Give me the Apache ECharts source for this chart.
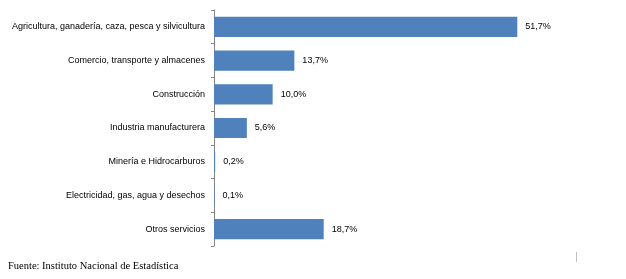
<!DOCTYPE html>
<html><head><meta charset="utf-8">
<script src="https://cdn.jsdelivr.net/npm/echarts@6/dist/echarts.min.js"></script>
<style>html,body{margin:0;padding:0;background:#fff}#c{width:626px;height:279px}</style>
</head><body><div id="c"></div>
<script>
const categories = [
  "Agricultura, ganadería, caza, pesca y silvicultura",
  "Comercio, transporte y almacenes",
  "Construcción",
  "Industria manufacturera",
  "Minería e Hidrocarburos",
  "Electricidad, gas, agua y desechos",
  "Otros servicios"
];
const values = [51.7, 13.7, 10.0, 5.6, 0.2, 0.1, 18.7];
const sourceText = "Fuente: Instituto Nacional de Estadística";

const FONT = "'Liberation Sans', Arial, sans-serif";
const chart = echarts.init(document.getElementById('c'), null, {renderer: 'canvas'});
chart.setOption({
  animation: false,
  grid: {left: 214, top: 10, width: 352, height: 236, containLabel: false, outerBoundsMode: 'none'},
  xAxis: {type: 'value', min: 0, max: 60, show: false},
  yAxis: {
    type: 'category', data: categories, inverse: true,
    axisLine: {show: true, lineStyle: {color: '#868686', width: 1}},
    axisTick: {show: true, length: 3, lineStyle: {color: '#868686'}},
    axisLabel: {color: '#000', fontFamily: FONT, fontSize: 9, margin: 9},
    splitLine: {show: false}
  },
  series: [{
    type: 'bar', data: values, barCategoryGap: '40%',
    itemStyle: {color: '#4F81BD'},
    label: {
      show: true, position: 'right', distance: 8,
      color: '#000', fontFamily: FONT, fontSize: 9,
      formatter: p => p.value.toFixed(1).replace('.', ',') + '%'
    }
  }],
  graphic: [
    {type: 'text', left: 8, top: 261,
     style: {text: sourceText, fill: '#000', font: "10.5px 'Liberation Serif', 'Times New Roman', serif"}},
    {type: 'line', shape: {x1: 576.5, y1: 252, x2: 576.5, y2: 262},
     style: {stroke: '#bfbfbf', lineWidth: 1}}
  ]
});
</script></body></html>
